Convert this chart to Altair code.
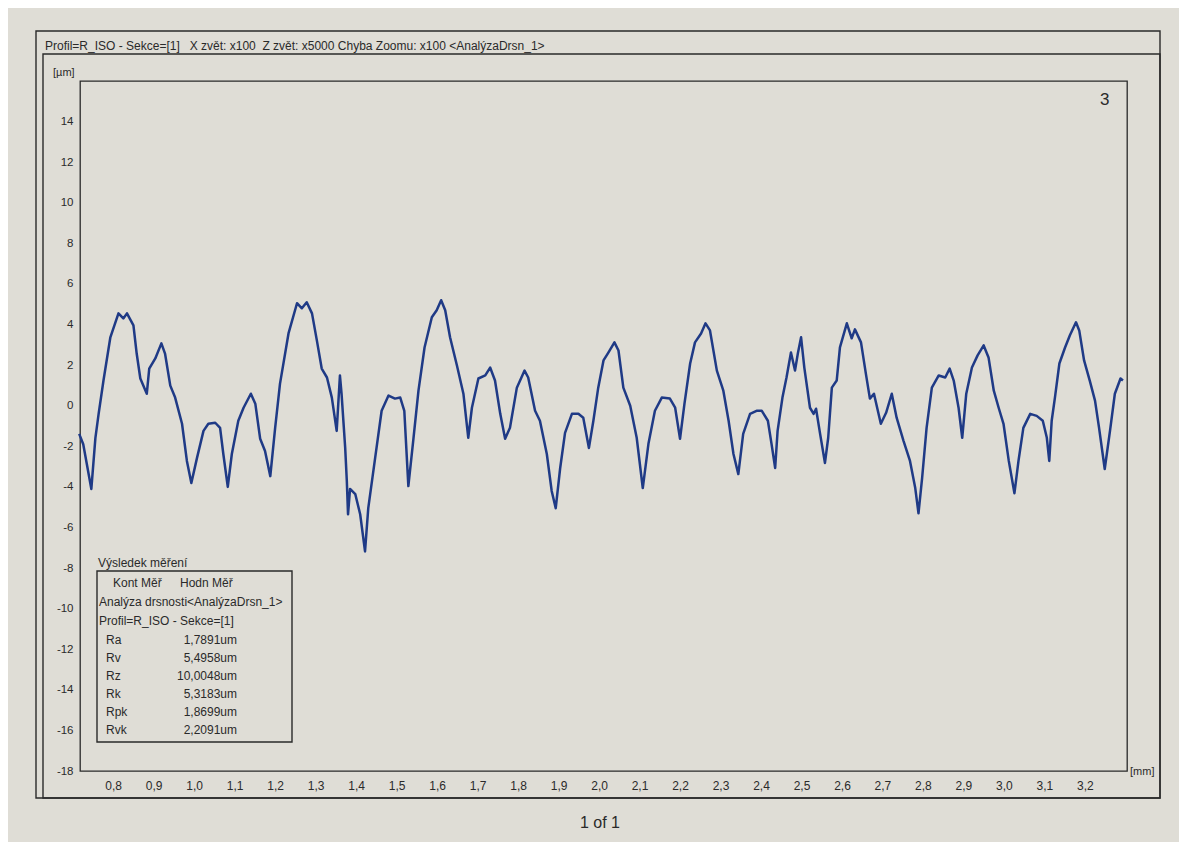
import altair as alt
import pandas as pd

# ---- profile data ----
x_mm = [0.716, 0.726, 0.746, 0.756, 0.764, 0.776, 0.793, 0.813, 0.825, 0.834, 0.850, 0.858, 0.867, 0.883,
        0.889, 0.904, 0.919, 0.928, 0.941, 0.953, 0.970, 0.982, 0.993, 1.007, 1.023, 1.035, 1.052, 1.064,
        1.072, 1.083, 1.093, 1.109, 1.122, 1.140, 1.151, 1.163, 1.175, 1.188, 1.200, 1.212, 1.233, 1.254,
        1.266, 1.278, 1.291, 1.303, 1.315, 1.328, 1.340, 1.352, 1.360, 1.364, 1.373, 1.377, 1.380, 1.385,
        1.398, 1.410, 1.422, 1.430, 1.447, 1.463, 1.480, 1.496, 1.509, 1.519, 1.529, 1.541, 1.554, 1.569,
        1.587, 1.599, 1.610, 1.620, 1.632, 1.649, 1.665, 1.677, 1.686, 1.702, 1.719, 1.731, 1.743, 1.756,
        1.768, 1.780, 1.797, 1.816, 1.825, 1.842, 1.854, 1.871, 1.883, 1.893, 1.904, 1.916, 1.933, 1.949,
        1.961, 1.975, 1.986, 1.998, 2.011, 2.023, 2.038, 2.048, 2.060, 2.077, 2.093, 2.108, 2.122, 2.138,
        2.155, 2.175, 2.188, 2.200, 2.211, 2.225, 2.237, 2.252, 2.263, 2.274, 2.291, 2.307, 2.320, 2.332,
        2.344, 2.356, 2.373, 2.389, 2.402, 2.417, 2.426, 2.435, 2.441, 2.453, 2.463, 2.474, 2.484, 2.491,
        2.499, 2.507, 2.521, 2.530, 2.536, 2.546, 2.558, 2.566, 2.575, 2.587, 2.595, 2.612, 2.624, 2.632,
        2.647, 2.659, 2.669, 2.679, 2.696, 2.709, 2.723, 2.735, 2.752, 2.768, 2.781, 2.789, 2.798, 2.809,
        2.822, 2.839, 2.855, 2.866, 2.876, 2.888, 2.897, 2.907, 2.921, 2.935, 2.950, 2.962, 2.975, 2.987,
        2.999, 3.012, 3.026, 3.036, 3.048, 3.065, 3.081, 3.096, 3.106, 3.112, 3.118, 3.126, 3.137, 3.151,
        3.163, 3.178, 3.186, 3.198, 3.212, 3.225, 3.235, 3.249, 3.262, 3.274, 3.288, 3.294]
z_um = [-1.39, -1.9, -4.1, -1.6, -0.4, 1.24, 3.37, 4.55, 4.3, 4.55, 3.96, 2.57, 1.34, 0.59,
        1.83, 2.33, 3.07, 2.57, 0.99, 0.4, -0.89, -2.72, -3.81, -2.57, -1.24, -0.89, -0.84, -1.09,
        -2.38, -4.0, -2.38, -0.74, -0.1, 0.59, 0.1, -1.63, -2.23, -3.47, -1.09, 1.09, 3.56, 5.05,
        4.8, 5.1, 4.55, 3.22, 1.83, 1.39, 0.4, -1.24, 1.49, 0.59, -2.08, -3.7, -5.35, -4.1,
        -4.36, -5.35, -7.18, -5.05, -2.57, -0.25, 0.5, 0.35, 0.4, -0.25, -3.96, -1.73, 0.74, 2.87,
        4.36, 4.7, 5.2, 4.7, 3.37, 1.98, 0.59, -1.58, -0.1, 1.34, 1.49, 1.88, 1.24, -0.4,
        -1.63, -1.09, 0.89, 1.73, 1.39, -0.25, -0.74, -2.38, -4.2, -5.05, -3.07, -1.34, -0.4, -0.4,
        -0.59, -2.08, -0.74, 0.89, 2.23, 2.62, 3.12, 2.72, 0.89, 0.0, -1.58, -4.06, -1.88, -0.25,
        0.4, 0.35, -0.1, -1.63, 0.1, 2.08, 3.12, 3.56, 4.06, 3.71, 1.73, 0.74, -0.74, -2.38,
        -3.37, -1.39, -0.4, -0.25, -0.25, -0.74, -1.88, -3.07, -1.24, 0.4, 1.39, 2.62, 1.73, 2.57,
        3.37, 1.88, -0.1, -0.4, -0.15, -1.39, -2.82, -1.58, 0.89, 1.24, 2.87, 4.06, 3.32, 3.76,
        3.12, 1.58, 0.35, 0.59, -0.89, -0.35, 0.59, -0.59, -1.73, -2.72, -4.06, -5.3, -3.56, -1.09,
        0.89, 1.49, 1.39, 1.83, 1.24, -0.1, -1.58, 0.59, 1.88, 2.48, 2.97, 2.38, 0.74, -0.1,
        -0.89, -2.72, -4.31, -2.72, -1.09, -0.4, -0.5, -0.74, -1.58, -2.72, -0.74, 0.4, 2.08, 2.87,
        3.47, 4.11, 3.71, 2.23, 1.24, 0.25, -1.09, -3.12, -1.24, 0.59, 1.34, 1.24]

x_ticks = [0.8, 0.9, 1.0, 1.1, 1.2, 1.3, 1.4, 1.5, 1.6, 1.7, 1.8, 1.9, 2.0, 2.1, 2.2, 2.3, 2.4,
           2.5, 2.6, 2.7, 2.8, 2.9, 3.0, 3.1, 3.2]
y_ticks = [-18, -16, -14, -12, -10, -8, -6, -4, -2, 0, 2, 4, 6, 8, 10, 12, 14]

params = ["Ra", "Rv", "Rz", "Rk", "Rpk", "Rvk"]
param_values = ["1,7891um", "5,4958um", "10,0048um", "5,3183um", "1,8699um", "2,2091um"]

NB = "\u00a0"
header = ("Profil=R_ISO - Sekce=[1]" + NB * 3 + "X zvět: x100" + NB * 2 +
          "Z zvět: x5000 Chyba Zoomu: x100 <AnalýzaDrsn_1>")
table_title = "Výsledek měření"
table_head_1 = "Kont Měř"
table_head_2 = "Hodn Měř"
table_line_1 = "Analýza drsnosti<AnalýzaDrsn_1>"
table_line_2 = "Profil=R_ISO - Sekce=[1]"
panel_no = "3"
page_label = "1 of 1"

# ---- layout ----
W, H = 1047, 690
OX, OY = 80, 81          # plot origin on the page
FONT = "Liberation Sans"
INK = "#2a2a2a"
PAPER = "#dfddd6"
BLUE = "#1f3a86"
FS = 12


def px(X):
    return X - OX


def py(Y):
    return Y - OY


one = alt.Data(values=[{"k": 1}])

profile = pd.DataFrame({"x": x_mm, "z": z_um})

xscale = alt.Scale(domain=[0.718, 3.304], nice=False, zero=False)
yscale = alt.Scale(domain=[-18, 16], nice=False, zero=False)

line = alt.Chart(profile).mark_line(color=BLUE, strokeWidth=2.5, strokeJoin="round").encode(
    x=alt.X("x:Q", scale=xscale,
            axis=alt.Axis(values=x_ticks, title=None, domain=False, ticks=False, grid=False,
                          labelExpr="replace(format(datum.value, '.1f'), '.', ',')",
                          labelPadding=9, labelFont=FONT, labelFontSize=12, labelColor=INK)),
    y=alt.Y("z:Q", scale=yscale,
            axis=alt.Axis(values=y_ticks, title=None, domain=False, ticks=False, grid=False,
                          labelExpr="'' + datum.value",
                          labelPadding=7, labelFont=FONT, labelFontSize=11.5, labelColor=INK)),
)


def frame(x1, y1, x2, y2, sw=1.3):
    return alt.Chart(one).mark_rect(fill="transparent", stroke=INK, strokeWidth=sw).encode(
        x=alt.value(px(x1)), x2=alt.value(px(x2)), y=alt.value(py(y1)), y2=alt.value(py(y2)))


def txt(s, X, Y, size=FS, align="left"):
    return alt.Chart(one).mark_text(text=s, font=FONT, fontSize=size, color=INK,
                                    align=align, baseline="middle").encode(
        x=alt.value(px(X)), y=alt.value(py(Y)))


layers = [
    frame(36, 31, 1160, 798, 1.4),
    frame(43, 54, 1160, 798, 1.4),
    line,
    txt(header, 45, 46),
    txt("[µm]", 53, 73, 11),
    txt("[mm]", 1130, 772, 11),
    txt(panel_no, 1100, 100, 17),
    txt(page_label, 600, 823, 16, "center"),
    frame(97, 571, 292, 742, 1.4),
    txt(table_title, 98, 563),
    txt(table_head_1, 113, 583),
    txt(table_head_2, 180, 583),
    txt(table_line_1, 99, 602),
    txt(table_line_2, 99, 621),
]

ptab = pd.DataFrame({"name": params, "val": param_values, "row": list(range(len(params)))})
base_tab = alt.Chart(ptab).transform_calculate(py_="%d + 18 * datum.row" % py(640))
layers.append(base_tab.mark_text(font=FONT, fontSize=FS, color=INK, align="left", baseline="middle").encode(
    x=alt.value(px(106)), y=alt.Y("py_:Q", scale=None), text="name:N"))
layers.append(base_tab.mark_text(font=FONT, fontSize=FS, color=INK, align="right", baseline="middle").encode(
    x=alt.value(px(237)), y=alt.Y("py_:Q", scale=None), text="val:N"))

chart = alt.layer(*layers).properties(
    width=W, height=H,
    autosize=alt.AutoSizeParams(type="none"),
    padding={"left": 72, "top": 73, "right": 52, "bottom": 71},
    background=PAPER,
).configure_view(stroke=INK, strokeWidth=1.3)

chart.save("out.html", embed_options={"renderer": "svg", "actions": False})
